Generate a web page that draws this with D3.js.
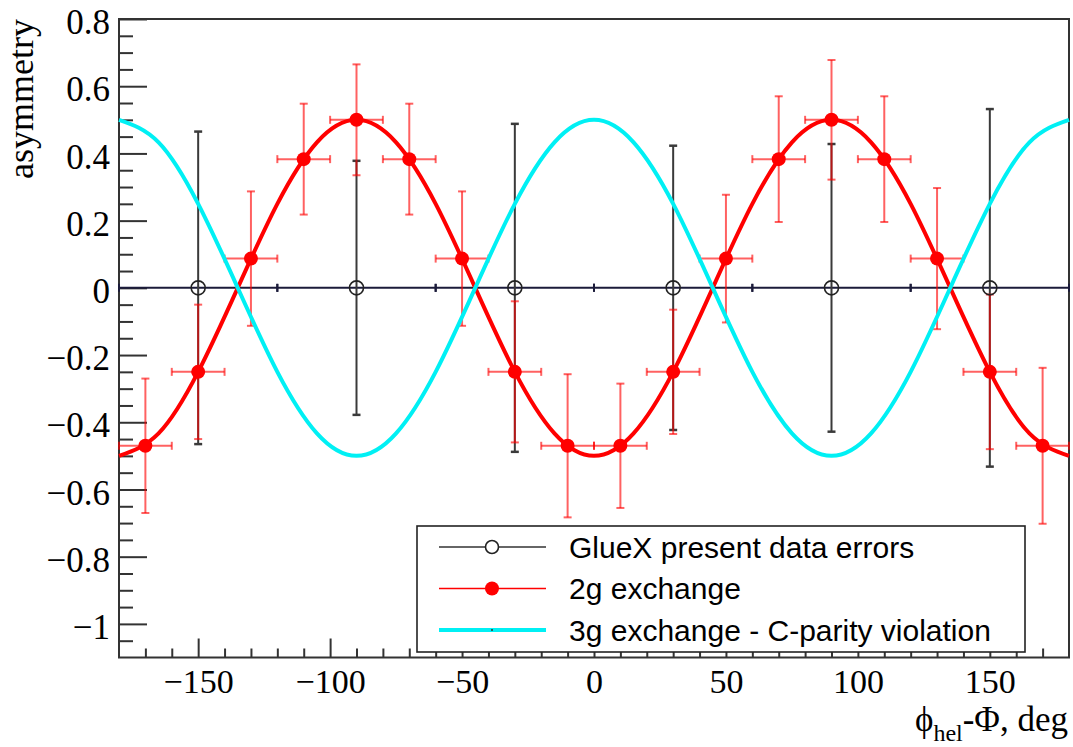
<!DOCTYPE html>
<html>
<head>
<meta charset="utf-8">
<script src="https://cdn.jsdelivr.net/npm/d3@7"></script>
<style>
  html, body { margin: 0; padding: 0; background: #fff; }
  svg { display: block; }
</style>
</head>
<body>
<svg id="chart" width="1073" height="747"></svg>
<script>
// GlueX present data errors (open circles at zero)
const gluexX    = [-150, -90, -30, 30, 90, 150];
const gluexY    = [0, 0, 0, 0, 0, 0];
const gluexErrX = [30, 30, 30, 30, 30, 30];
const gluexErrY = [0.465, 0.378, 0.488, 0.423, 0.428, 0.532];

// 2g exchange pseudo-data
const twoGX    = [-170, -150, -130, -110, -90, -70, -50, -30, -10, 10, 30, 50, 70, 90, 110, 130, 150, 170];
const twoGY    = [-0.47, -0.25, 0.087, 0.383, 0.5, 0.383, 0.087, -0.25, -0.47, -0.47, -0.25, 0.087, 0.383, 0.5, 0.383, 0.087, -0.25, -0.47];
const twoGErrX = [10, 10, 10, 10, 10, 10, 10, 10, 10, 10, 10, 10, 10, 10, 10, 10, 10, 10];
const twoGErrY = [0.2, 0.2, 0.2, 0.165, 0.165, 0.165, 0.2, 0.21, 0.213, 0.185, 0.185, 0.19, 0.187, 0.178, 0.187, 0.21, 0.23, 0.232];

// Model curves sampled along phi
const curveX  = [-180, -165, -150, -135, -120, -105, -90, -75, -60, -45, -30, -15, 0, 15, 30, 45, 60, 75, 90, 105, 120, 135, 150, 165, 180];
const curve2g = [-0.5, -0.433, -0.25, 0, 0.25, 0.433, 0.5, 0.433, 0.25, 0, -0.25, -0.433, -0.5, -0.433, -0.25, 0, 0.25, 0.433, 0.5, 0.433, 0.25, 0, -0.25, -0.433, -0.5];
const curve3g = [0.5, 0.433, 0.25, 0, -0.25, -0.433, -0.5, -0.433, -0.25, 0, 0.25, 0.433, 0.5, 0.433, 0.25, 0, -0.25, -0.433, -0.5, -0.433, -0.25, 0, 0.25, 0.433, 0.5];

// Axis ticks and labels
const xMajorTicks = [-150, -100, -50, 0, 50, 100, 150];
const xTickLabels = ["\u2212150", "\u2212100", "\u221250", "0", "50", "100", "150"];
const xMinorTicks = [-170, -160, -140, -130, -120, -110, -90, -80, -70, -60, -40, -30, -20, -10,
                     10, 20, 30, 40, 60, 70, 80, 90, 110, 120, 130, 140, 160, 170];
const yMajorTicks = [-1, -0.8, -0.6, -0.4, -0.2, 0, 0.2, 0.4, 0.6, 0.8];
const yTickLabels = ["\u22121", "\u22120.8", "\u22120.6", "\u22120.4", "\u22120.2", "0", "0.2", "0.4", "0.6", "0.8"];
const yMinorTicks = [-1.05, -0.95, -0.9, -0.85, -0.75, -0.7, -0.65, -0.55, -0.5, -0.45, -0.35, -0.3, -0.25,
                     -0.15, -0.1, -0.05, 0.05, 0.1, 0.15, 0.25, 0.3, 0.35, 0.45, 0.5, 0.55, 0.65, 0.7, 0.75];

const legendLabels = ["GlueX present data errors", "2g exchange", "3g exchange - C-parity violation"];

const frame = { left: 119, right: 1069, top: 19, bottom: 657.5 };
const svg = d3.select("#chart");

const x = d3.scaleLinear().domain([-180, 180]).range([frame.left, frame.right]);
const y = d3.scaleLinear().domain([-1.1, 0.8]).range([frame.bottom, frame.top]);

const serif = "'Liberation Serif', 'Times New Roman', serif";
const sans = "'Liberation Sans', Arial, sans-serif";
const axisColor = "#333";

// ---- axes (ticks pointing inward) ----
const xMinor = d3.axisBottom(x).tickValues(xMinorTicks).tickSize(-9).tickSizeOuter(0).tickFormat("");
const xMajor = d3.axisBottom(x).tickValues(xMajorTicks).tickSize(-19).tickSizeOuter(0).tickPadding(11)
  .tickFormat((d, i) => xTickLabels[i]);
const yMinor = d3.axisLeft(y).tickValues(yMinorTicks).tickSize(-14).tickSizeOuter(0).tickFormat("");
const yMajor = d3.axisLeft(y).tickValues(yMajorTicks).tickSize(-28).tickSizeOuter(0).tickPadding(9)
  .tickFormat((d, i) => yTickLabels[i]);

function styleAxis(g) {
  g.select(".domain").remove();
  g.selectAll(".tick line").attr("stroke", axisColor).attr("stroke-width", 2);
  g.selectAll(".tick text").attr("fill", "#000").style("font-family", serif).style("font-size", "35px");
}

svg.append("g").attr("transform", `translate(0,${frame.bottom})`).call(xMinor).call(styleAxis);
const xAx = svg.append("g").attr("transform", `translate(0,${frame.bottom})`).call(xMajor).call(styleAxis);
xAx.selectAll(".tick text").style("font-size", "34px");
svg.append("g").attr("transform", `translate(${frame.left},0)`).call(yMinor).call(styleAxis);
const yAx = svg.append("g").attr("transform", `translate(${frame.left},0)`).call(yMajor).call(styleAxis);
yAx.selectAll(".tick text").attr("dy", "0.42em");

// frame
svg.append("rect")
  .attr("x", frame.left).attr("y", frame.top)
  .attr("width", frame.right - frame.left).attr("height", frame.bottom - frame.top)
  .attr("fill", "none").attr("stroke", axisColor).attr("stroke-width", 2);

const plot = svg.append("g");

// ---- GlueX error bars ----
const gluex = gluexX.map((v, i) => ({ x: v, y: gluexY[i], ex: gluexErrX[i], ey: gluexErrY[i] }));
const gCol = "#3a3a3a";
const gG = plot.append("g");
gG.selectAll("line.hx").data(gluex).join("line")
  .attr("x1", d => x(d.x - d.ex)).attr("x2", d => x(d.x + d.ex))
  .attr("y1", d => y(d.y)).attr("y2", d => y(d.y))
  .attr("stroke", "#1b1b3a").attr("stroke-width", 2);
gG.selectAll("line.hc").data(gluex.flatMap(d => [{ x: d.x - d.ex, y: d.y }, { x: d.x + d.ex, y: d.y }])).join("line")
  .attr("x1", d => x(d.x)).attr("x2", d => x(d.x))
  .attr("y1", d => y(d.y) - 4).attr("y2", d => y(d.y) + 4)
  .attr("stroke", "#1b1b3a").attr("stroke-width", 2);
gG.selectAll("line.vx").data(gluex).join("line")
  .attr("x1", d => x(d.x)).attr("x2", d => x(d.x))
  .attr("y1", d => y(d.y + d.ey)).attr("y2", d => y(d.y - d.ey))
  .attr("stroke", gCol).attr("stroke-width", 2);
gG.selectAll("line.vc").data(gluex.flatMap(d => [{ x: d.x, y: d.y + d.ey }, { x: d.x, y: d.y - d.ey }])).join("line")
  .attr("x1", d => x(d.x) - 4).attr("x2", d => x(d.x) + 4)
  .attr("y1", d => y(d.y)).attr("y2", d => y(d.y))
  .attr("stroke", gCol).attr("stroke-width", 2.5);

// ---- 2g exchange error bars ----
const twoG = twoGX.map((v, i) => ({ x: v, y: twoGY[i], ex: twoGErrX[i], ey: twoGErrY[i] }));
const rG = plot.append("g").attr("stroke", "#ff0000").attr("stroke-opacity", 0.62).attr("stroke-width", 2);
rG.selectAll("line.h").data(twoG).join("line")
  .attr("x1", d => x(d.x - d.ex)).attr("x2", d => x(d.x + d.ex))
  .attr("y1", d => y(d.y)).attr("y2", d => y(d.y));
rG.selectAll("line.hc").data(twoG.flatMap(d => [{ x: d.x - d.ex, y: d.y }, { x: d.x + d.ex, y: d.y }])).join("line")
  .attr("x1", d => x(d.x)).attr("x2", d => x(d.x))
  .attr("y1", d => y(d.y) - 4).attr("y2", d => y(d.y) + 4);
rG.selectAll("line.v").data(twoG).join("line")
  .attr("x1", d => x(d.x)).attr("x2", d => x(d.x))
  .attr("y1", d => y(d.y + d.ey)).attr("y2", d => y(d.y - d.ey));
rG.selectAll("line.vc").data(twoG.flatMap(d => [{ x: d.x, y: d.y + d.ey }, { x: d.x, y: d.y - d.ey }])).join("line")
  .attr("x1", d => x(d.x) - 4).attr("x2", d => x(d.x) + 4)
  .attr("y1", d => y(d.y)).attr("y2", d => y(d.y));

// ---- model curves ----
const line = d3.line().x(d => x(d[0])).y(d => y(d[1])).curve(d3.curveNatural);
plot.append("path")
  .datum(curveX.map((v, i) => [v, curve2g[i]]))
  .attr("d", line).attr("fill", "none").attr("stroke", "#ff0000").attr("stroke-width", 4);

// 2g markers
plot.selectAll("circle.r").data(twoG).join("circle")
  .attr("cx", d => x(d.x)).attr("cy", d => y(d.y)).attr("r", 7)
  .attr("fill", "#ff0000");

// GlueX markers (hollow)
plot.selectAll("circle.g").data(gluex).join("circle")
  .attr("cx", d => x(d.x)).attr("cy", d => y(d.y)).attr("r", 7)
  .attr("fill", "none").attr("stroke", "#222").attr("stroke-width", 1.6);

plot.append("path")
  .datum(curveX.map((v, i) => [v, curve3g[i]]))
  .attr("d", line).attr("fill", "none").attr("stroke", "#00f0f4").attr("stroke-width", 4);

// ---- legend ----
const leg = svg.append("g");
leg.append("rect")
  .attr("x", 417).attr("y", 526).attr("width", 608).attr("height", 126)
  .attr("fill", "#fff").attr("stroke", "#222").attr("stroke-width", 1.6);
const rowY = [547, 588.5, 630];
const lx1 = 439, lx2 = 546, lmid = 492, tx = 569;
// GlueX entry
leg.append("line").attr("x1", lx1).attr("x2", lx2).attr("y1", rowY[0]).attr("y2", rowY[0])
  .attr("stroke", "#333").attr("stroke-width", 1.6);
leg.append("circle").attr("cx", lmid).attr("cy", rowY[0]).attr("r", 6.5)
  .attr("fill", "#fff").attr("stroke", "#222").attr("stroke-width", 1.6);
// 2g entry
leg.append("line").attr("x1", lx1).attr("x2", lx2).attr("y1", rowY[1]).attr("y2", rowY[1])
  .attr("stroke", "#ff0000").attr("stroke-width", 1.6);
leg.append("circle").attr("cx", lmid).attr("cy", rowY[1]).attr("r", 7).attr("fill", "#ff0000");
// 3g entry
leg.append("line").attr("x1", lx1).attr("x2", lx2).attr("y1", rowY[2]).attr("y2", rowY[2])
  .attr("stroke", "#00f0f4").attr("stroke-width", 4);
leg.append("circle").attr("cx", lmid).attr("cy", rowY[2]).attr("r", 1).attr("fill", "#333");

leg.selectAll("text").data(legendLabels).join("text")
  .attr("x", tx).attr("y", (d, i) => rowY[i]).attr("dy", "0.36em")
  .style("font-family", sans).style("font-size", "30px").attr("fill", "#000")
  .text(d => d);

// ---- axis titles ----
svg.append("text")
  .attr("transform", `translate(33,${frame.top}) rotate(-90)`)
  .attr("text-anchor", "end")
  .style("font-family", serif).style("font-size", "36px")
  .text("asymmetry");

const xt = svg.append("text")
  .attr("x", 1068).attr("y", 731).attr("text-anchor", "end")
  .style("font-family", serif).style("font-size", "35px");
xt.append("tspan").text("\u03D5");
xt.append("tspan").attr("dy", 10).style("font-size", "24px").text("hel");
xt.append("tspan").attr("dy", -10).text("-\u03A6, deg");
</script>
</body>
</html>
